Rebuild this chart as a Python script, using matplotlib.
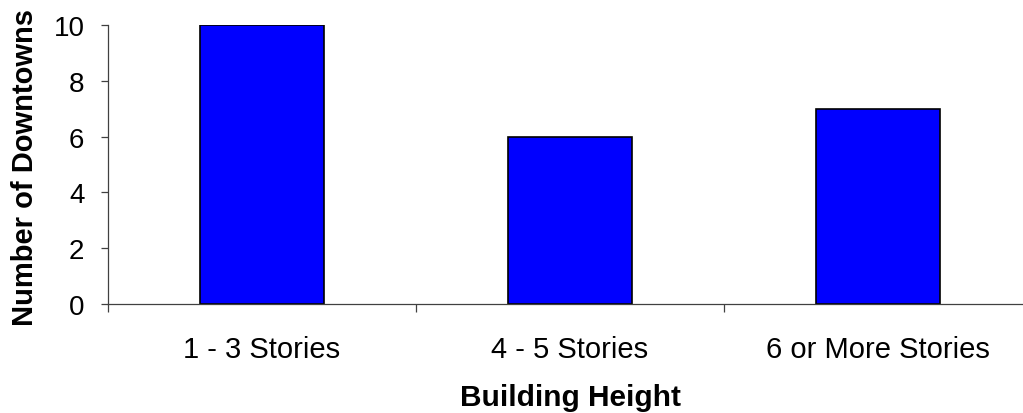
import numpy as np
import matplotlib.pyplot as plt
from matplotlib.ticker import FixedLocator

plt.rcParams['font.family'] = ['Liberation Sans', 'DejaVu Sans']

categories = ["1 - 3 Stories", "4 - 5 Stories", "6 or More Stories"]
downtowns = [10, 6, 7]
y_ticks = [0, 2, 4, 6, 8, 10]

W, H = 1023, 414
fig = plt.figure(figsize=(W / 100, H / 100), dpi=100)
ax = fig.add_axes([108 / W, (H - 305) / H, 923.7 / W, 279 / H])

x = np.arange(len(categories))
ax.bar(x, downtowns, width=0.403, color='#0000ff', edgecolor='black', linewidth=1.2)

ax.set_xlim(-0.5, len(categories) - 0.5)
ax.set_ylim(0, 10)

for side in ('top', 'right'):
    ax.spines[side].set_visible(False)
for side in ('left', 'bottom'):
    ax.spines[side].set_color('#404040')
    ax.spines[side].set_linewidth(0.9)

# category labels sit between boundary ticks
ax.set_xticks(x)
ax.set_xticklabels(categories, fontsize=21)
ax.xaxis.set_minor_locator(FixedLocator(np.arange(len(categories) + 1) - 0.5))
ax.tick_params(axis='x', which='major', length=0, pad=22)
ax.tick_params(axis='x', which='minor', length=6, width=0.9, color='#404040', direction='out')

ax.set_yticks(y_ticks)
ax.set_yticklabels([str(v) for v in y_ticks], fontsize=20)
ax.tick_params(axis='y', length=5, width=0.9, color='#404040', direction='out', pad=12)

fig.text(570 / W, 1 - 406.5 / H, "Building Height", fontsize=21.5, fontweight='bold',
         ha='center', va='baseline')
fig.text(33 / W, 1 - 167.5 / H, "Number of Downtowns", fontsize=21, fontweight='bold',
         rotation=90, rotation_mode='anchor', ha='center', va='baseline')

fig.savefig('out.png', dpi=100)
